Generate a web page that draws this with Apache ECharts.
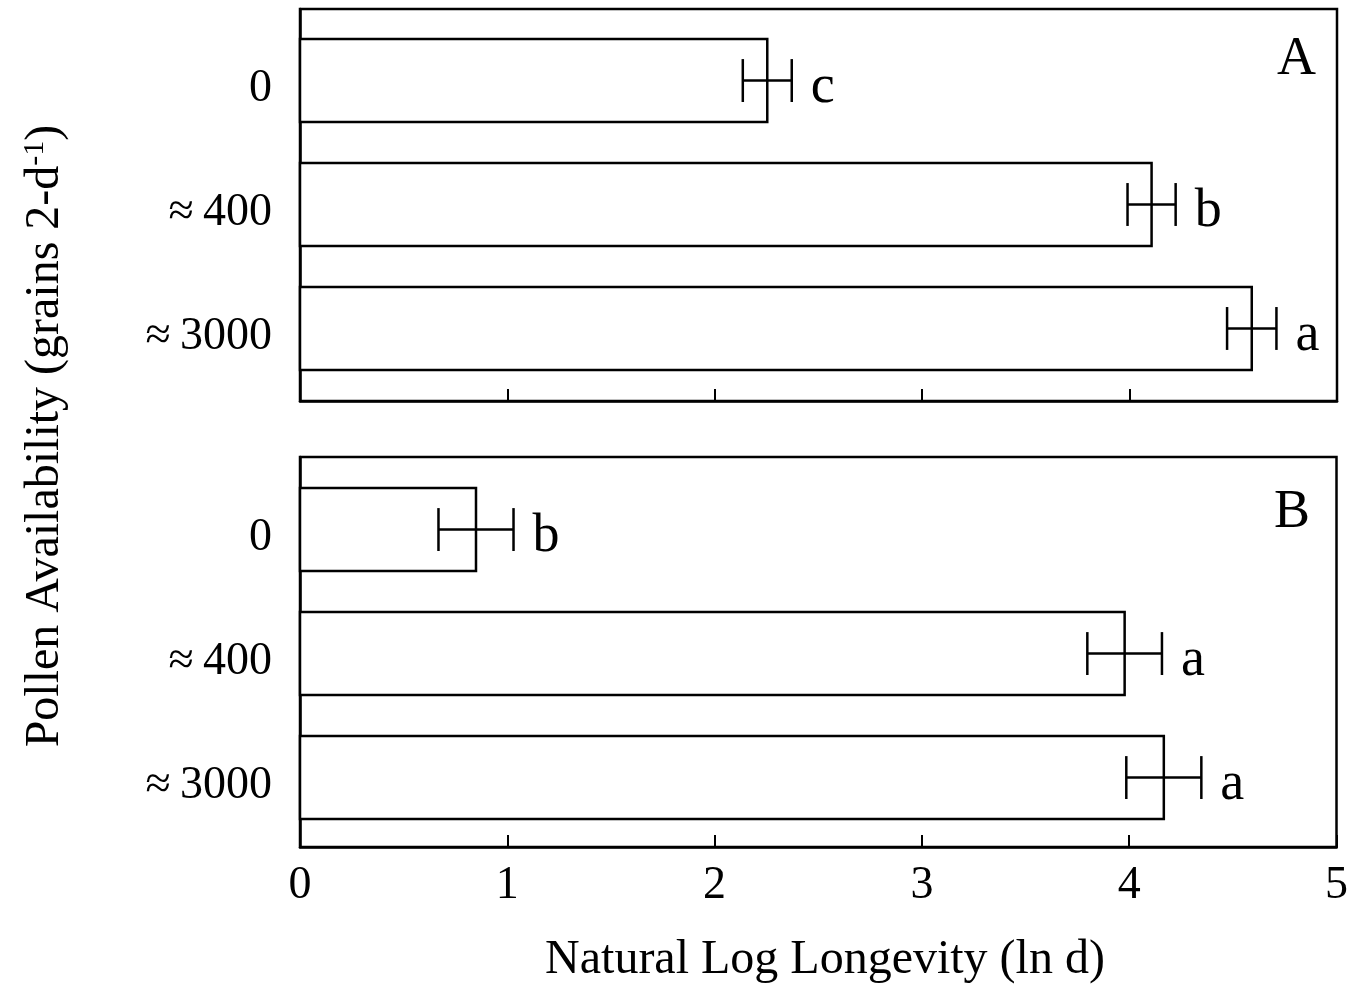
<!DOCTYPE html>
<html><head><meta charset="utf-8">
<script src="https://cdn.jsdelivr.net/npm/echarts@6/dist/echarts.min.js"></script>
<style>html,body{margin:0;padding:0;background:#fff}#c{width:1351px;height:989px}</style>
</head><body><div id="c"></div>
<script>
const categories = ['0', '\u2248\u2009400', '\u2248\u20093000'];
const valuesA = [2.253, 4.106, 4.589];
const errorsA = [0.118, 0.116, 0.119];
const lettersA = ['c', 'b', 'a'];
const valuesB = [0.849, 3.978, 4.167];
const errorsB = [0.181, 0.180, 0.181];
const lettersB = ['b', 'a', 'a'];
const panelLabels = ['A', 'B'];
const xTitle = 'Natural Log Longevity (ln d)';

const FF = '"Liberation Serif", "Times New Roman", serif';
const chart = echarts.init(document.getElementById('c'), null, {renderer: 'canvas'});

function rows(vals, errs) { return vals.map((v, i) => [v, i, errs[i]]); }

function barRender(params, api) {
  const v = api.value(0), i = api.value(1);
  const p0 = api.coord([0, i]), p1 = api.coord([v, i]);
  const h = api.size([0, 1])[1] * 0.67;
  return {type: 'rect', shape: {x: p0[0], y: p0[1] - h / 2, width: p1[0] - p0[0], height: h},
    style: {fill: '#fff', stroke: '#000', lineWidth: 2.5}};
}
function errRender(letters) {
  return function (params, api) {
    const v = api.value(0), i = api.value(1), e = api.value(2);
    const lo = api.coord([v - e, i]), hi = api.coord([v + e, i]);
    const c = api.size([0, 1])[1] * 0.173;
    const st = {stroke: '#000', lineWidth: 2.5};
    return {type: 'group', children: [
      {type: 'line', shape: {x1: lo[0], y1: lo[1], x2: hi[0], y2: hi[1]}, style: st},
      {type: 'line', shape: {x1: lo[0], y1: lo[1] - c, x2: lo[0], y2: lo[1] + c}, style: st},
      {type: 'line', shape: {x1: hi[0], y1: hi[1] - c, x2: hi[0], y2: hi[1] + c}, style: st},
      {type: 'text', x: hi[0] + 19, y: hi[1] + 7, style: {text: letters[params.dataIndex], fill: '#000',
        fontSize: 54, fontFamily: FF, align: 'left', verticalAlign: 'middle'}}
    ]};
  };
}

function xAxis(idx, showLabels) {
  return {type: 'value', gridIndex: idx, min: 0, max: 5, interval: 1,
    axisLine: {show: true, onZero: false, lineStyle: {color: '#000', width: 2.5}},
    axisTick: {show: true, inside: true, length: 12, lineStyle: {color: '#000', width: 2}},
    splitLine: {show: false},
    axisLabel: {show: showLabels, color: '#000', fontSize: 46, fontFamily: FF, margin: 16}};
}
function yAxis(idx, min, max) {
  return {type: 'value', gridIndex: idx, inverse: true, min: min, max: max,
    axisLine: {show: true, onZero: false, lineStyle: {color: '#000', width: 2.5}},
    axisTick: {show: false}, splitLine: {show: false},
    axisLabel: {show: true, customValues: [0, 1, 2],
      formatter: v => '{c|' + (categories[Math.round(v)] || '') + '}',
      rich: {c: {color: '#000', fontSize: 46, fontFamily: FF, padding: [16, 0, 0, 0]}},
      color: '#000', fontSize: 46, fontFamily: FF, margin: 28}};
}

chart.setOption({
  animation: false,
  backgroundColor: '#fff',
  grid: [
    {left: 300, top: 9, width: 1037, height: 392, show: true, borderColor: '#000', borderWidth: 2.5, backgroundColor: 'transparent'},
    {left: 300, top: 457, width: 1037, height: 390, show: true, borderColor: '#000', borderWidth: 2.5, backgroundColor: 'transparent'}
  ],
  xAxis: [xAxis(0, false), xAxis(1, true)],
  yAxis: [yAxis(0, -0.577, 2.585), yAxis(1, -0.585, 2.56)],
  series: [
    {type: 'custom', xAxisIndex: 0, yAxisIndex: 0, data: rows(valuesA, errorsA), renderItem: barRender, clip: false, z: 2},
    {type: 'custom', xAxisIndex: 0, yAxisIndex: 0, data: rows(valuesA, errorsA), renderItem: errRender(lettersA), clip: false, z: 3},
    {type: 'custom', xAxisIndex: 1, yAxisIndex: 1, data: rows(valuesB, errorsB), renderItem: barRender, clip: false, z: 2},
    {type: 'custom', xAxisIndex: 1, yAxisIndex: 1, data: rows(valuesB, errorsB), renderItem: errRender(lettersB), clip: false, z: 3}
  ],
  graphic: [
    {type: 'text', x: 1316, y: 60, style: {text: panelLabels[0], fill: '#000', fontSize: 54, fontFamily: FF, align: 'right', verticalAlign: 'middle'}},
    {type: 'text', x: 1310, y: 513, style: {text: panelLabels[1], fill: '#000', fontSize: 54, fontFamily: FF, align: 'right', verticalAlign: 'middle'}},
    {type: 'text', x: 825, y: 960, style: {text: xTitle, fill: '#000', fontSize: 48, fontFamily: FF, align: 'center', verticalAlign: 'middle'}},
    {type: 'text', x: 45, y: 436, rotation: Math.PI / 2,
      style: {text: 'Pollen Availability (grains 2-d{sup|-1})', fill: '#000', fontSize: 48, fontFamily: FF,
        align: 'center', verticalAlign: 'middle', lineHeight: 50,
        rich: {sup: {fontSize: 30, fontFamily: FF, fill: '#000', verticalAlign: 'top', lineHeight: 30}}}}
  ]
});
</script></body></html>
